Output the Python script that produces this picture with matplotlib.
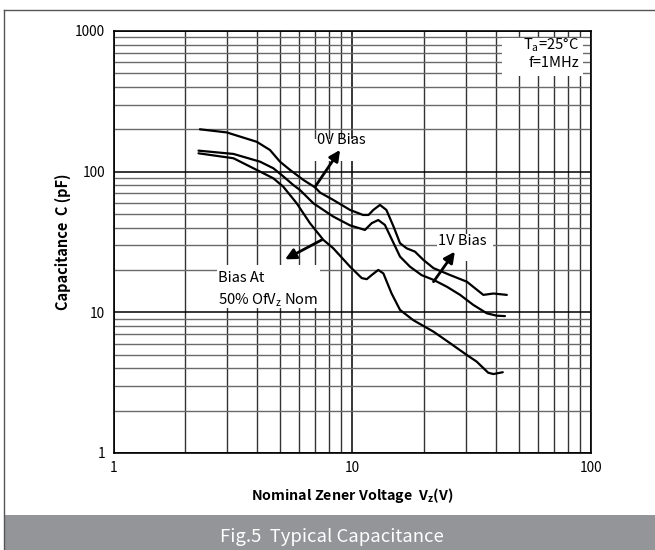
import matplotlib
matplotlib.use("Agg")
import matplotlib.pyplot as plt
from matplotlib.patches import Rectangle
from matplotlib.lines import Line2D

plt.rcParams['font.family'] = ['Noto Sans CJK SC', 'DejaVu Sans']
plt.rcParams['mathtext.default'] = 'regular'

# --- curves (V, pF) ---
bias0_v = [2.30, 2.98, 3.98, 4.52, 4.98, 5.49, 6.24, 6.98, 7.33, 8.33, 9.79,
           11.1, 11.7, 12.25, 13.06, 13.9, 14.9, 15.85, 16.9, 18.3, 19.9,
           21.9, 25.7, 30.2, 35.4, 39.0, 44.4]
bias0_c = [200, 190, 163, 142.6, 117.7, 102.8, 87.3, 77.4, 71, 62.9, 53.4,
           49.2, 49.2, 53.4, 58, 53.4, 40.6, 31, 28.5, 27.0, 23.5,
           20.6, 18.4, 16.5, 13.3, 13.6, 13.3]

bias1_v = [2.27, 3.18, 4.11, 4.67, 5.06, 5.66, 6.04, 6.87, 8.33, 9.79, 11.3,
           12.06, 12.85, 13.7, 14.9, 15.85, 17.45, 19.5, 21.9, 24.9, 28.3,
           32.1, 36.6, 40.3, 43.6]
bias1_c = [141, 133.6, 117.7, 105.7, 94.7, 80.4, 74, 59.6, 47.9, 41.5, 38.5,
           43, 45.3, 41.8, 31, 24.9, 21.1, 18.4, 17.0, 15.2, 13.3,
           11.3, 9.84, 9.46, 9.4]

bias50_v = [2.27, 3.18, 3.98, 4.67, 5.14, 5.85, 6.65, 7.57, 8.33, 9.79, 10.96,
            11.5, 12.06, 12.85, 13.5, 14.6, 15.85, 18.0, 21.9, 25.7, 30.2,
            33.2, 37.1, 39.0, 42.7]
bias50_c = [135, 124.5, 102.8, 89.7, 78.2, 59.6, 43, 32.7, 28.5, 21.1, 17.5,
            17.2, 18.4, 20, 18.9, 13.65, 10.4, 8.8, 7.28, 6.03, 4.97,
            4.46, 3.72, 3.64, 3.75]

x_ticks = [1, 10, 100]
y_ticks = [1, 10, 100, 1000]

fig = plt.figure(figsize=(6.55, 5.5), dpi=100)

# outer frame and caption band
fig.add_artist(Line2D([0.0066, 0.0066], [0, 0.981], color='#555555', lw=1.0))
fig.add_artist(Line2D([0.0066, 1.0], [0.981, 0.981], color='#555555', lw=1.0))
fig.add_artist(Rectangle((0.0066, 0), 1.0, 0.0636, facecolor='#939598',
                         edgecolor='none'))
fig.text(0.507, 0.024, "Fig.5  Typical Capacitance", color='white',
         fontsize=13.3, ha='center', va='center')

ax = fig.add_axes([0.1733, 0.1764, 0.729, 0.7673])
ax.set_xscale('log')
ax.set_yscale('log')
ax.set_xlim(1, 100)
ax.set_ylim(1, 1000)
ax.set_axisbelow(True)

ax.grid(True, which='major', axis='both', color='black', lw=1.1)
ax.grid(True, which='minor', axis='x', color='#333333', lw=1.0)
ax.grid(True, which='minor', axis='y', color='#6a6a6a', lw=1.0)

ax.set_xticks(x_ticks)
ax.set_xticklabels([str(v) for v in x_ticks])
ax.set_yticks(y_ticks)
ax.set_yticklabels([str(v) for v in y_ticks])
ax.tick_params(which='both', length=0, labelsize=9.8)
ax.tick_params(axis='x', pad=6)
ax.tick_params(axis='y', pad=6)
for s in ax.spines.values():
    s.set_linewidth(1.2)
    s.set_color('black')

ax.set_xlabel("Nominal Zener Voltage  V$_z$(V)", fontsize=10.3,
              fontweight='bold', labelpad=8)
ax.set_ylabel("Capacitance  C (pF)", fontsize=10.5, fontweight='bold',
              labelpad=3)

for xs, ys in [(bias0_v, bias0_c), (bias1_v, bias1_c), (bias50_v, bias50_c)]:
    ax.plot(xs, ys, color='black', lw=1.6, zorder=3, solid_capstyle='round')

# white label boxes (axes fractions)
boxes = [(0.8136, 0.8934, 0.17, 0.09),
         (0.4178, 0.6920, 0.118, 0.052),
         (0.677, 0.4550, 0.118, 0.064),
         (0.2168, 0.3436, 0.216, 0.102)]
for bx, by, bw, bh in boxes:
    ax.add_patch(Rectangle((bx, by), bw, bh, transform=ax.transAxes,
                           facecolor='white', edgecolor='none', zorder=2))

fs = 10.6
ax.text(0.975, 0.9668, "T$_a$=25°C", transform=ax.transAxes, ha='right',
        va='center', fontsize=fs, zorder=5)
ax.text(0.975, 0.924, "f=1MHz", transform=ax.transAxes, ha='right',
        va='center', fontsize=fs, zorder=5)
ax.text(7.15, 169, "0V Bias", ha='left', va='center', fontsize=fs, zorder=5)
ax.text(22.9, 31.9, "1V Bias", ha='left', va='center', fontsize=fs, zorder=5)
ax.text(0.2180, 0.4146, "Bias At", transform=ax.transAxes, ha='left',
        va='center', fontsize=fs, zorder=5)
ax.text(0.2180, 0.3625, "50% OfV$_z$ Nom", transform=ax.transAxes, ha='left',
        va='center', fontsize=fs, zorder=5)

arrow = dict(arrowstyle='-|>', color='black', lw=2.0, mutation_scale=16,
             shrinkA=0, shrinkB=0)
ax.annotate("", xy=(8.89, 142.6), xytext=(6.98, 77.8), arrowprops=arrow,
            zorder=4)
ax.annotate("", xy=(26.9, 27.0), xytext=(21.9, 16.5), arrowprops=arrow,
            zorder=4)
ax.annotate("", xy=(5.23, 23.8), xytext=(7.45, 32.7), arrowprops=arrow,
            zorder=4)

plt.savefig("out.png", dpi=100)
plt.close()
